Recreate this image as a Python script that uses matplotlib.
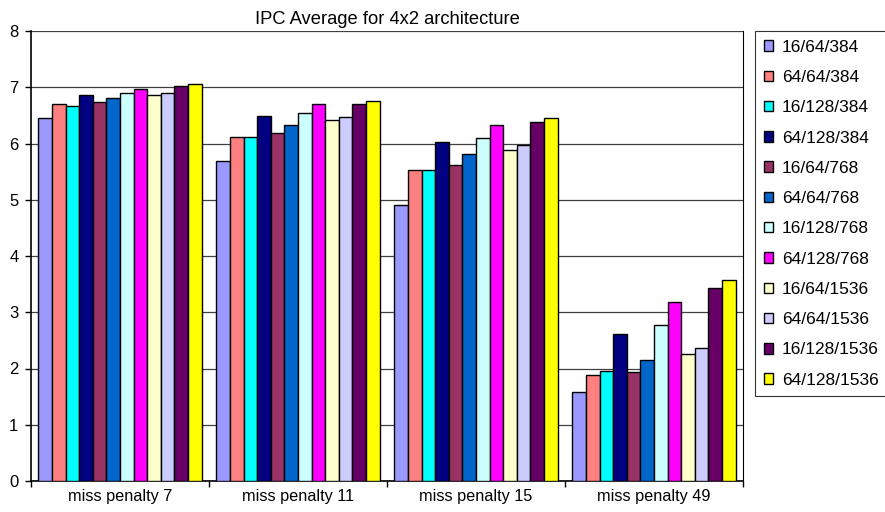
import numpy as np
import matplotlib
matplotlib.use("Agg")
import matplotlib.pyplot as plt

plt.rcParams['font.family'] = ['Liberation Sans', 'DejaVu Sans']

groups = ["miss penalty 7", "miss penalty 11", "miss penalty 15", "miss penalty 49"]
configs = ["16/64/384", "64/64/384", "16/128/384", "64/128/384",
           "16/64/768", "64/64/768", "16/128/768", "64/128/768",
           "16/64/1536", "64/64/1536", "16/128/1536", "64/128/1536"]
colors = ["#9999FF", "#FF8080", "#00FFFF", "#000080",
          "#993366", "#0066CC", "#CCFFFF", "#FF00FF",
          "#FFFFCC", "#CCCCFF", "#660066", "#FFFF00"]

# IPC per configuration, one value per miss-penalty group
ipc_16_64_384 = [6.46, 5.69, 4.91, 1.58]
ipc_64_64_384 = [6.70, 6.12, 5.53, 1.88]
ipc_16_128_384 = [6.66, 6.12, 5.53, 1.96]
ipc_64_128_384 = [6.87, 6.49, 6.02, 2.61]
ipc_16_64_768 = [6.74, 6.18, 5.61, 1.93]
ipc_64_64_768 = [6.81, 6.33, 5.81, 2.15]
ipc_16_128_768 = [6.89, 6.54, 6.10, 2.78]
ipc_64_128_768 = [6.97, 6.70, 6.33, 3.19]
ipc_16_64_1536 = [6.87, 6.41, 5.89, 2.26]
ipc_64_64_1536 = [6.90, 6.48, 5.97, 2.37]
ipc_16_128_1536 = [7.02, 6.71, 6.38, 3.43]
ipc_64_128_1536 = [7.05, 6.76, 6.45, 3.58]

series = [ipc_16_64_384, ipc_64_64_384, ipc_16_128_384, ipc_64_128_384,
          ipc_16_64_768, ipc_64_64_768, ipc_16_128_768, ipc_64_128_768,
          ipc_16_64_1536, ipc_64_64_1536, ipc_16_128_1536, ipc_64_128_1536]

fig = plt.figure(figsize=(8.85, 5.12), dpi=100)
ax = fig.add_axes([31 / 885, 1 - 481 / 512, (743 - 31) / 885, (481 - 31) / 512])

n = len(series)
bw = 0.0765
x = np.arange(len(groups))
for i, (vals, lab, col) in enumerate(zip(series, configs, colors)):
    offs = (i - (n - 1) / 2) * bw
    ax.bar(x + offs, vals, width=bw, color=col, edgecolor="black",
           linewidth=1.0, label=lab, zorder=3)

ax.set_xlim(-0.5, len(groups) - 0.5)
ax.set_ylim(0, 8)
ax.set_yticks(range(0, 9))
ax.yaxis.grid(True, color="#404040", linewidth=0.9, zorder=0)
ax.set_axisbelow(True)

ax.set_xticks(x)
ax.set_xticklabels(groups, fontsize=11.7)
ax.tick_params(axis="x", length=0, pad=6)
ax.set_xticks(np.arange(-0.5, len(groups)), minor=True)
ax.tick_params(axis="x", which="minor", length=4, width=1, direction="out")
ax.tick_params(axis="y", length=4, width=1, direction="out", labelsize=12, pad=5)

ax.spines["top"].set_visible(False)
ax.spines["left"].set_linewidth(1.2)
ax.spines["bottom"].set_linewidth(1.2)
ax.spines["right"].set_linewidth(0.8)

ax.set_title("IPC Average for 4x2 architecture", fontsize=13.2, pad=5)

leg = fig.legend(loc="upper left", bbox_to_anchor=(755 / 885, 1 - 31 / 512),
                 frameon=True, fancybox=False, edgecolor="black", fontsize=12.5,
                 handlelength=0.55, handleheight=0.55, handletextpad=0.5,
                 labelspacing=0.88, borderpad=0.5, borderaxespad=0)
leg.get_frame().set_linewidth(0.8)

fig.savefig("out.png", dpi=100)
